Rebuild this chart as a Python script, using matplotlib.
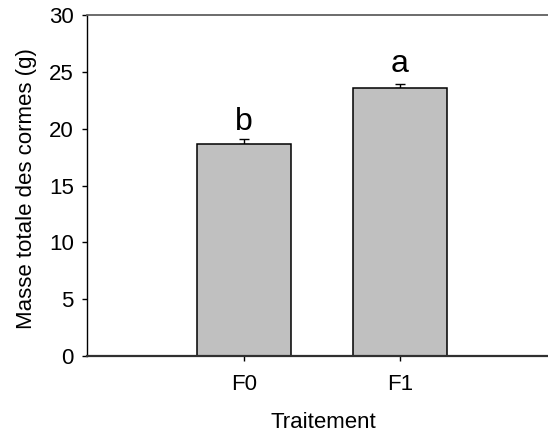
import numpy as np
import matplotlib.pyplot as plt

plt.rcParams['font.family'] = ['Liberation Sans', 'DejaVu Sans']

# Data
traitements = ['F0', 'F1']
masse = [18.65, 23.57]
erreur = [0.43, 0.35]
lettres = ['b', 'a']
lettres_y = [19.88, 24.98]

W, H = 548, 433
fig = plt.figure(figsize=(W / 100, H / 100), dpi=100)
ax = fig.add_axes([87 / W, 1 - 356 / H, 461 / W, 341 / H])

x = np.arange(len(traitements))
# error bars behind the bars so only the upper half shows
ax.errorbar(x, masse, yerr=[np.zeros(len(x)), erreur], fmt='none', ecolor='black',
            elinewidth=1, capsize=3.6, capthick=1, zorder=0.5)
ax.bar(x, masse, width=0.6, color='#c0c0c0', edgecolor='black', linewidth=1.1, zorder=1)

for xi, l, ly in zip(x, lettres, lettres_y):
    ax.text(xi, ly, l, ha='center', va='baseline', fontsize=23)

ax.set_xlim(-1.006, 1.95)
ax.set_ylim(0, 30)
ax.set_yticks(range(0, 31, 5))
ax.set_xticks(x)
ax.set_xticklabels(traitements)
ax.tick_params(direction='out', length=3.6, width=1, labelsize=16, colors='black')
ax.tick_params(axis='y', pad=6)
ax.tick_params(axis='x', pad=9.5)
ax.spines['right'].set_visible(False)
ax.spines['top'].set_color('#606060')
ax.spines['top'].set_linewidth(1.3)
ax.spines['left'].set_linewidth(1.0)
ax.spines['bottom'].set_color('#303030')
ax.spines['bottom'].set_linewidth(1.6)

fig.text(323 / W, 1 - 428 / H, 'Traitement', ha='center', va='baseline', fontsize=16)
fig.text(32 / W, 1 - 188.5 / H, 'Masse totale des cormes (g)', rotation=90,
         rotation_mode='anchor', ha='center', va='baseline', fontsize=16)

plt.savefig('out.png', dpi=100)
